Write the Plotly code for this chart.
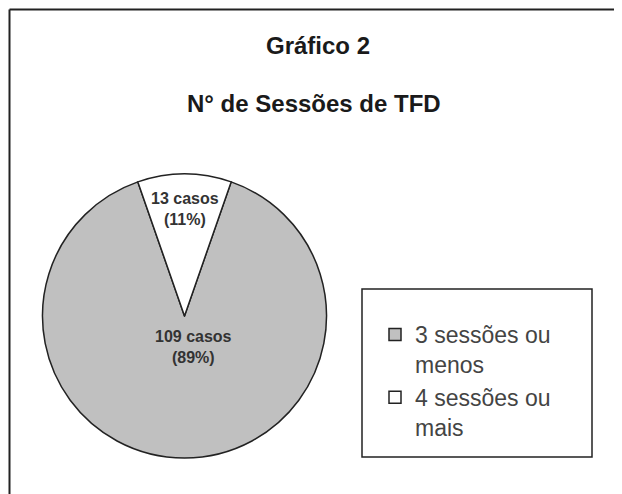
import plotly.graph_objects as go

# Data
categories = ["3 sessões ou<br>menos", "4 sessões ou<br>mais"]
values = [109, 13]
percentages = [89, 11]
title_lines = ["Gráfico 2", "N° de Sessões de TFD"]

# page body has an 8px margin; figure fills the rest of the 622x494 window
OFF = 8
W, H = 622 - OFF, 494 - OFF
FONT = "Arial, Liberation Sans, sans-serif"

def px(x):
    return (x - OFF) / W

def py(y):
    return 1 - (y - OFF) / H

fig = go.Figure()
fig.add_trace(go.Pie(
    labels=categories,
    values=values,
    sort=False,
    direction="clockwise",
    rotation=180 * values[1] / sum(values),
    marker=dict(colors=["#c0c0c0", "#ffffff"], line=dict(color="#222222", width=1.5)),
    textinfo="none",
    hoverinfo="label+value+percent",
    domain=dict(x=[px(42.5), px(326.5)], y=[py(458), py(174)]),
))

# slice labels
label_pos = [(193, 347), (185, 209)]
annotations = []
for v, p, (lx, ly) in zip(values, percentages, label_pos):
    annotations.append(dict(
        x=px(lx), y=py(ly), xref="paper", yref="paper",
        text=f"<b>{v} casos<br>({p}%)</b>", showarrow=False,
        font=dict(family=FONT, size=16, color="#333333"),
        xanchor="center", yanchor="middle", align="center",
    ))

annotations.append(dict(x=px(318), y=py(45), xref="paper", yref="paper",
                        text=f"<b>{title_lines[0]}</b>", showarrow=False,
                        font=dict(family=FONT, size=24, color="#1a1a1a"),
                        xanchor="center", yanchor="middle"))
annotations.append(dict(x=px(314), y=py(103), xref="paper", yref="paper",
                        text=f"<b>{title_lines[1]}</b>", showarrow=False,
                        font=dict(family=FONT, size=24, color="#1a1a1a"),
                        xanchor="center", yanchor="middle"))

shapes = [
    dict(type="line", xref="paper", yref="paper", x0=px(9.5), x1=1.0, y0=py(9.5), y1=py(9.5),
         line=dict(color="#222222", width=2)),
    dict(type="line", xref="paper", yref="paper", x0=px(9.5), x1=px(9.5), y0=py(9.5), y1=0.0,
         line=dict(color="#222222", width=2)),
    dict(type="rect", xref="paper", yref="paper", x0=px(362), x1=px(592), y0=py(457), y1=py(289),
         line=dict(color="#222222", width=1.5), fillcolor="rgba(0,0,0,0)"),
]

fig.update_layout(
    width=W, height=H,
    margin=dict(l=0, r=0, t=0, b=0),
    paper_bgcolor="white", plot_bgcolor="white",
    showlegend=True,
    legend=dict(
        x=px(375), y=py(313), xanchor="left", yanchor="top",
        font=dict(family=FONT, size=23, color="#444444"),
        valign="top", bgcolor="rgba(0,0,0,0)", borderwidth=0,
        itemwidth=30,
    ),
    annotations=annotations,
    shapes=shapes,
)

fig.write_html("out.html")
